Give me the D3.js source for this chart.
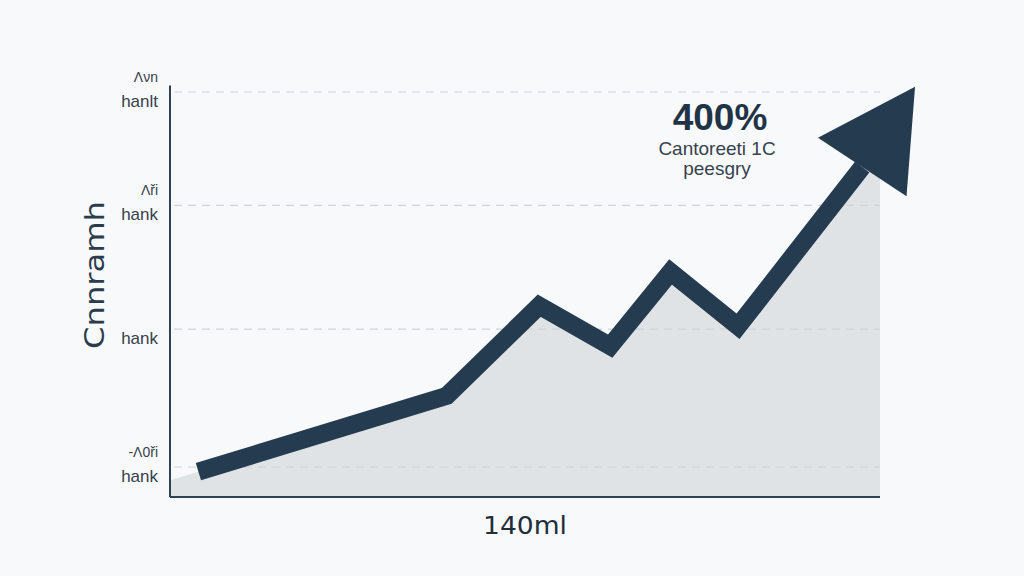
<!DOCTYPE html>
<html>
<head>
<meta charset="utf-8">
<script src="https://cdn.jsdelivr.net/npm/d3@7"></script>
<style>
  html, body { margin: 0; padding: 0; background: #f8f9fa; }
  svg { display: block; }
</style>
</head>
<body>
<svg id="chart" width="1024" height="576"></svg>
<script>
// ---- data ----
const xValues = [4, 39, 52, 62, 70.5, 80, 97.5];
const yValues = [-5, 76, 172, 129, 208, 150, 320];
const gridValues = [0, 147, 279, 400];
const tickMainLabels = ["hank", "hank", "hank", "hanlt"];
const tickSubLabels = ["-Λ0ři", "", "Λři", "Λνn"];
const yTitle = "Cnnramh";
const xTitle = "140ml";
const calloutValue = "400%";
const calloutLines = ["Cantoreeti 1C", "peesgry"];

// ---- setup ----
const svg = d3.select("#chart");
const W = 1024, H = 576;
svg.append("rect").attr("width", W).attr("height", H).attr("fill", "#f8f9fa");

const x = d3.scaleLinear().domain([0, 100]).range([170, 880]);
const y = d3.scaleLinear().domain([-32, 400]).range([497, 92]);

const pts = xValues.map((v, i) => [v, yValues[i]]);

// area (extend to plot edges along first/last segments)
const [a0, a1] = [pts[0], pts[1]];
const s0 = (a1[1] - a0[1]) / (a1[0] - a0[0]);
const startExt = [x.domain()[0], a0[1] + s0 * (x.domain()[0] - a0[0])];
const [b0, b1] = [pts[pts.length - 2], pts[pts.length - 1]];
const s1 = (b1[1] - b0[1]) / (b1[0] - b0[0]);
const endExt = [x.domain()[1], b1[1] + s1 * (x.domain()[1] - b1[0])];
const areaPts = [startExt, ...pts, endExt];

const area = d3.area()
  .x(d => x(d[0]))
  .y0(y(y.domain()[0]))
  .y1(d => y(d[1]));
svg.append("path")
  .datum(areaPts)
  .attr("d", area)
  .attr("fill", "#dfe3e5");

// gridlines
svg.append("g").selectAll("line")
  .data(gridValues)
  .join("line")
  .attr("x1", x(0) + 4)
  .attr("x2", x(100))
  .attr("y1", d => y(d))
  .attr("y2", d => y(d))
  .attr("stroke", "#cfd4d8")
  .attr("stroke-width", 1.2)
  .attr("stroke-dasharray", "8,6");

// axes lines
svg.append("line")
  .attr("x1", x(0)).attr("x2", x(0))
  .attr("y1", y(407)).attr("y2", y(-32))
  .attr("stroke", "#2f4152").attr("stroke-width", 2);
svg.append("line")
  .attr("x1", x(0)).attr("x2", x(100))
  .attr("y1", y(-32)).attr("y2", y(-32))
  .attr("stroke", "#2f4152").attr("stroke-width", 2);

// tick labels
const tg = svg.append("g").attr("font-family", "Liberation Sans, Arial, sans-serif").attr("fill", "#36414c");
tg.selectAll("text.main")
  .data(gridValues)
  .join("text")
  .attr("class", "main")
  .attr("x", 158)
  .attr("y", d => y(d) + 15)
  .attr("text-anchor", "end")
  .attr("font-size", 17)
  .text((d, i) => tickMainLabels[i]);
tg.selectAll("text.sub")
  .data(gridValues)
  .join("text")
  .attr("class", "sub")
  .attr("x", 158)
  .attr("y", d => y(d) - 10)
  .attr("text-anchor", "end")
  .attr("font-size", 14)
  .text((d, i) => tickSubLabels[i]);

// line
const line = d3.line().x(d => x(d[0])).y(d => y(d[1]));
svg.append("path")
  .datum(pts)
  .attr("d", line)
  .attr("fill", "none")
  .attr("stroke", "#243b50")
  .attr("stroke-width", 18)
  .attr("stroke-linejoin", "miter")
  .attr("stroke-miterlimit", 10)
  .attr("stroke-linecap", "butt");

// arrowhead
const ex = x(b1[0]), ey = y(b1[1]);
const px = x(b0[0]), py = y(b0[1]);
let ux = ex - px, uy = ey - py;
const len = Math.hypot(ux, uy);
ux /= len; uy /= len;
// slight rotation toward vertical, as in reference
const rot = -0.08;
const rx = ux * Math.cos(rot) - uy * Math.sin(rot);
const ry = ux * Math.sin(rot) + uy * Math.cos(rot);
const nx = -ry, ny = rx;
const headLen = 96, headHalf = 53;
const tip = [ex + rx * headLen, ey + ry * headLen];
const c1 = [ex + nx * headHalf, ey + ny * headHalf];
const c2 = [ex - nx * headHalf, ey - ny * headHalf];
svg.append("path")
  .attr("d", `M${tip[0]},${tip[1]}L${c1[0]},${c1[1]}L${c2[0]},${c2[1]}Z`)
  .attr("fill", "#243b50");

// callout
svg.append("text")
  .attr("x", 720).attr("y", 130)
  .attr("text-anchor", "middle")
  .attr("font-family", "Liberation Sans, Arial, sans-serif")
  .attr("font-weight", "bold")
  .attr("font-size", 37)
  .attr("fill", "#1f3447")
  .text(calloutValue);
svg.selectAll("text.callout")
  .data(calloutLines)
  .join("text")
  .attr("class", "callout")
  .attr("x", 717)
  .attr("y", (d, i) => 155 + i * 20)
  .attr("text-anchor", "middle")
  .attr("font-family", "Liberation Sans, Arial, sans-serif")
  .attr("font-size", 19)
  .attr("fill", "#36424e")
  .text(d => d);

// axis titles
svg.append("text")
  .attr("transform", "translate(104,275) rotate(-90)")
  .attr("text-anchor", "middle")
  .attr("font-family", "DejaVu Sans, sans-serif")
  .attr("font-size", 26)
  .attr("fill", "#2b3c4c")
  .attr("textLength", 148)
  .attr("lengthAdjust", "spacingAndGlyphs")
  .text(yTitle);

svg.append("text")
  .attr("x", 525).attr("y", 534)
  .attr("text-anchor", "middle")
  .attr("font-family", "DejaVu Sans, sans-serif")
  .attr("font-size", 25)
  .attr("fill", "#1f2e3b")
  .attr("textLength", 84)
  .attr("lengthAdjust", "spacingAndGlyphs")
  .text(xTitle);
</script>
</body>
</html>
